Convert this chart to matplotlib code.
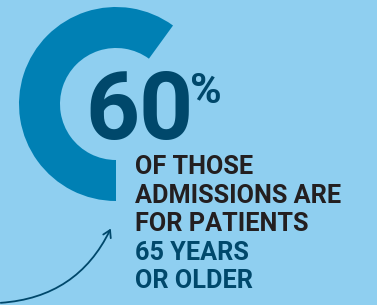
import numpy as np
import matplotlib.pyplot as plt
from matplotlib.patches import Wedge, FancyArrowPatch

plt.rcParams['font.family'] = ['Roboto', 'DejaVu Sans']

# data
share = 60
big_label = '60'
lines = ['OF THOSE', 'ADMISSIONS ARE', 'FOR PATIENTS', '65 YEARS', 'OR OLDER']
line_colors = ['#231f20', '#231f20', '#231f20', '#00486b', '#00486b']

bg = '#8fcff0'
arc_color = '#0080b4'
navy = '#00486b'

W, H = 377, 305
fig = plt.figure(figsize=(W / 100, H / 100), dpi=100, facecolor=bg)
ax = fig.add_axes([0, 0, 1, 1])
ax.set_xlim(0, W)
ax.set_ylim(0, H)
ax.set_facecolor(bg)
ax.axis('off')

# donut arc, ends at bottom and runs counter-clockwise
span = 360 * share / 100.
ax.add_patch(Wedge((116, H - 104), 97, 270 - span, 270, width=41,
                   facecolor=arc_color, edgecolor='none'))

ax.text(85, H - 139, big_label, fontsize=68, fontweight='bold', color=navy,
        ha='left', va='baseline')
ax.text(190, H - 103, '%', fontsize=31, fontweight='bold', color=navy,
        ha='left', va='baseline')

y0 = H - 174
for i, (s, c) in enumerate(zip(lines, line_colors)):
    ax.text(135, y0 - i * 28.6, s, fontsize=18.2, fontweight='bold', color=c,
            ha='left', va='baseline')

arr = FancyArrowPatch((-2, H - 303), (112, H - 226), connectionstyle='arc3,rad=0.3',
                      arrowstyle='->,head_length=5,head_width=3', color=navy, lw=1.3)
ax.add_patch(arr)

fig.savefig('out.png', dpi=100, facecolor=bg)
